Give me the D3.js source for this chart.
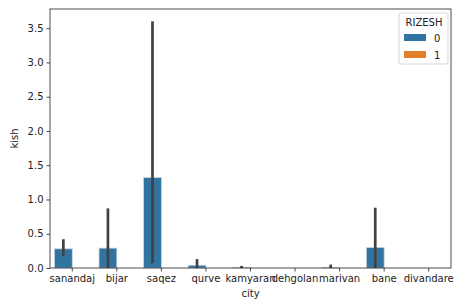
<!DOCTYPE html>
<html>
<head>
<meta charset="utf-8">
<script src="https://cdn.jsdelivr.net/npm/d3@7"></script>
<style>
  body { margin: 0; background: #fff; }
  text { font-family: "DejaVu Sans", sans-serif; fill: #222; }
</style>
</head>
<body>
<div id="chart"></div>
<script>
const WIDTH = 454;
const HEIGHT = 300;
const margin = { top: 9, right: 3, bottom: 32, left: 50 };

// data
const cities = ['sanandaj', 'bijar', 'saqez', 'qurve', 'kamyaran', 'dehgolan', 'marivan', 'bane', 'divandare'];
const hues = ['0', '1'];
const mean0 = [0.28, 0.29, 1.32, 0.04, 0.01, 0, 0.01, 0.30, 0];
const low0 = [0.17, 0, 0.07, 0, 0, 0, 0, 0, 0];
const high0 = [0.42, 0.87, 3.6, 0.13, 0.03, 0, 0.05, 0.88, 0];
const mean1 = [0, 0, 0, 0, 0, 0, 0, 0, 0];
const yTicks = [0, 0.5, 1, 1.5, 2, 2.5, 3, 3.5];
const colors = ['#3274a1', '#e1812c'];

const w = WIDTH - margin.left - margin.right;
const h = HEIGHT - margin.top - margin.bottom;

const svg = d3.select('#chart')
  .append('svg')
  .attr('width', WIDTH)
  .attr('height', HEIGHT)
  .append('g')
  .attr('transform', `translate(${margin.left}, ${margin.top})`);

const x = d3.scaleBand().domain(cities).range([0, w]);
const xHue = d3.scaleBand().domain(hues).range([x.bandwidth() * 0.1, x.bandwidth() * 0.9]);
const y = d3.scaleLinear().domain([0, 3.6 * 1.05]).range([h, 0]);

// bars
const series = [mean0, mean1];
series.forEach((vals, k) => {
  svg.append('g')
    .selectAll('rect')
    .data(cities)
    .enter()
    .append('rect')
    .attr('x', (c) => x(c) + xHue(hues[k]))
    .attr('width', xHue.bandwidth())
    .attr('y', (c, i) => y(vals[i]))
    .attr('height', (c, i) => y(0) - y(vals[i]))
    .attr('fill', colors[k])
    .attr('stroke', '#c9d6e0')
    .attr('stroke-width', 0.8)
    .attr('stroke-opacity', (c, i) => (vals[i] > 0 ? 1 : 0));
});

// error bars
svg.append('g')
  .selectAll('line')
  .data(cities)
  .enter()
  .append('line')
  .attr('x1', (c) => x(c) + xHue('0') + xHue.bandwidth() / 2)
  .attr('x2', (c) => x(c) + xHue('0') + xHue.bandwidth() / 2)
  .attr('y1', (c, i) => y(low0[i]))
  .attr('y2', (c, i) => y(high0[i]))
  .attr('stroke', '#424242')
  .attr('stroke-width', 2.7);

// axes
const xAx = svg.append('g')
  .attr('transform', `translate(0, ${h})`)
  .call(d3.axisBottom(x).tickSize(3.5).tickPadding(3));
const yAx = svg.append('g')
  .call(d3.axisLeft(y).tickValues(yTicks).tickFormat(d3.format('.1f')).tickSize(3.5).tickPadding(3));
[xAx, yAx].forEach((a) => {
  a.select('.domain').remove();
  a.selectAll('text').style('font-size', '10px').attr('fill', '#222');
  a.selectAll('line').attr('stroke', '#222').attr('stroke-width', 0.8);
});

// frame
svg.append('rect')
  .attr('width', w)
  .attr('height', h)
  .attr('fill', 'none')
  .attr('stroke', '#222')
  .attr('stroke-width', 0.8);

// axis labels
svg.append('text')
  .attr('x', w / 2)
  .attr('y', h + 29)
  .attr('text-anchor', 'middle')
  .style('font-size', '10px')
  .text('city');
svg.append('text')
  .attr('transform', `translate(${-32}, ${h / 2}) rotate(-90)`)
  .attr('text-anchor', 'middle')
  .style('font-size', '10px')
  .text('kish');

// legend
const lg = svg.append('g').attr('transform', `translate(${w - 52}, 4)`);
lg.append('rect')
  .attr('width', 49)
  .attr('height', 51)
  .attr('rx', 2)
  .attr('fill', '#fff')
  .attr('fill-opacity', 0.8)
  .attr('stroke', '#ccc')
  .attr('stroke-width', 0.8);
lg.append('text')
  .attr('x', 25)
  .attr('y', 13)
  .attr('text-anchor', 'middle')
  .style('font-size', '10px')
  .text('RIZESH');
hues.forEach((hv, k) => {
  lg.append('rect')
    .attr('x', 5)
    .attr('y', 21 + k * 17)
    .attr('width', 22)
    .attr('height', 7)
    .attr('fill', colors[k]);
  lg.append('text')
    .attr('x', 35)
    .attr('y', 29 + k * 17)
    .style('font-size', '10px')
    .text(hv);
});
</script>
</body>
</html>
